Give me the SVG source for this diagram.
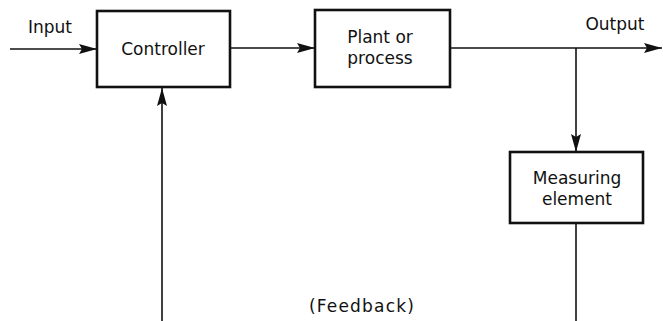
<svg xmlns="http://www.w3.org/2000/svg" width="663" height="321" viewBox="0 0 663 321">
<style>
.box{fill:#fff;stroke:#111;stroke-width:2.6}
.ln{fill:none;stroke:#111;stroke-width:1.6}
text{font-family:"DejaVu Sans","Liberation Sans",sans-serif;font-size:17px;fill:#111;text-anchor:middle}
</style>
<defs>
<marker id="ah" viewBox="0 0 18 11" refX="18" refY="5.5" markerWidth="18" markerHeight="11" markerUnits="userSpaceOnUse" orient="auto">
<path d="M0,0.5 L18,5.5 L0,10.5 L3,5.5 Z" fill="#111"/>
</marker>
</defs>
<g id="connectors">
<line class="ln" x1="10" y1="49" x2="97" y2="49" marker-end="url(#ah)"/>
<line class="ln" x1="230" y1="48" x2="315" y2="48" marker-end="url(#ah)"/>
<line class="ln" x1="450" y1="48" x2="662" y2="48" marker-end="url(#ah)"/>
<line class="ln" x1="576" y1="48" x2="576" y2="152" marker-end="url(#ah)"/>
<line class="ln" x1="576" y1="223" x2="576" y2="321"/>
<line class="ln" x1="162" y1="321" x2="162" y2="88" marker-end="url(#ah)"/>
</g>
<g id="input-label"><text x="50" y="33">Input</text></g>
<g id="output-label"><text x="615" y="30">Output</text></g>
<g id="controller">
<rect class="box" x="97" y="11" width="133" height="76"/>
<text x="163" y="55">Controller</text>
</g>
<g id="plant">
<rect class="box" x="315" y="10" width="135" height="77"/>
<text x="380" y="43">Plant or</text>
<text x="380" y="64">process</text>
</g>
<g id="measuring">
<rect class="box" x="510" y="152" width="133" height="71"/>
<text x="577" y="184">Measuring</text>
<text x="577" y="205">element</text>
</g>
<g id="feedback-label"><text x="362" y="312" letter-spacing="1.2">(Feedback)</text></g>
</svg>
